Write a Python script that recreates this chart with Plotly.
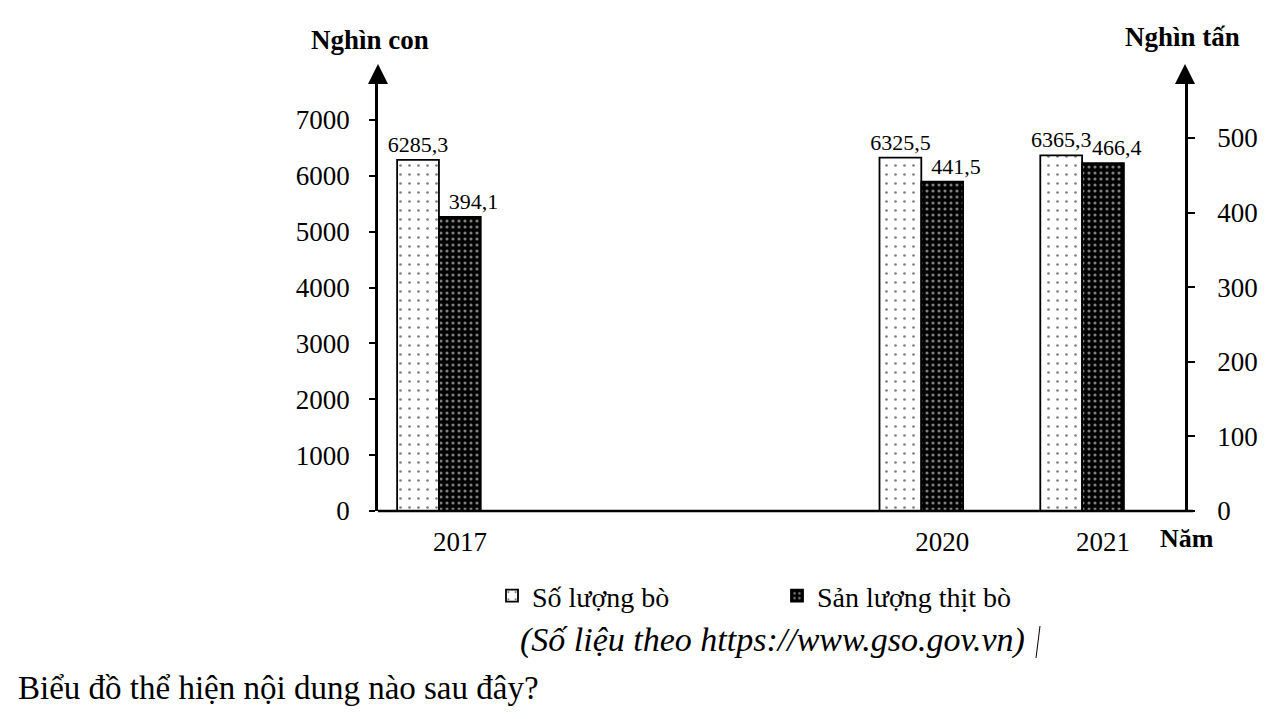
import plotly.graph_objects as go

years = [2017, 2020, 2021]
so_luong_bo = [6285.3, 6325.5, 6365.3]       # Nghìn con
san_luong_thit = [394.1, 441.5, 466.4]        # Nghìn tấn
left_ticks = [0, 1000, 2000, 3000, 4000, 5000, 6000, 7000]
right_ticks = [0, 100, 200, 300, 400, 500]
series_names = ["Số lượng bò", "Sản lượng thịt bò"]

def fmt(v):
    return f"{v:.1f}".replace(".", ",")

FONT = "Times New Roman, Liberation Serif, DejaVu Serif, serif"
W, H = 1280, 719
L, R, T, B = 378, 95, 80, 208
pw = W - L - R
ph = H - T - B

fig = go.Figure()
bw = 0.26
fig.add_trace(go.Bar(
    x=years, y=so_luong_bo, name=series_names[0], yaxis="y",
    width=bw, offset=-bw,
    text=[fmt(v) for v in so_luong_bo], textposition="outside", constraintext="none",
    textfont=dict(family=FONT, size=22, color="black"), cliponaxis=False,
    marker=dict(color="white", line=dict(color="black", width=1.8),
                pattern=dict(shape=".", fgcolor="black", bgcolor="white",
                             size=9, solidity=0.07, fillmode="overlay")),
))
fig.add_trace(go.Bar(
    x=years, y=san_luong_thit, name=series_names[1], yaxis="y2",
    width=bw, offset=0,
    text=[fmt(v) for v in san_luong_thit], textposition="outside", constraintext="none",
    texttemplate="&nbsp;&nbsp;&nbsp;&nbsp;&nbsp;%{text}",
    textfont=dict(family=FONT, size=22, color="black"), cliponaxis=False,
    marker=dict(color="black", line=dict(color="black", width=1.8),
                pattern=dict(shape=".", fgcolor="white", bgcolor="black",
                             size=6, solidity=0.22, fillmode="overlay")),
))

left_top = ph / ((511 - 120) / 7000)
right_top = ph / ((511 - 138) / 500)

fig.update_layout(
    width=W, height=H,
    margin=dict(l=L, r=R, t=T, b=B, pad=0, autoexpand=False),
    paper_bgcolor="white", plot_bgcolor="white",
    font=dict(family=FONT, color="black"),
    barmode="overlay",
    xaxis=dict(range=[2016.621, 2021.64], tickvals=years, ticktext=[str(y) for y in years],
               showgrid=False, zeroline=False, showline=False, ticks="", automargin=False,
               tickfont=dict(family=FONT, size=27), ticklabelshift=21, ticklabelstandoff=12),
    yaxis=dict(range=[0, left_top], tickvals=left_ticks, showgrid=False, zeroline=False,
               showline=True, linecolor="black", linewidth=2.5, automargin=False,
               ticks="outside", ticklen=6, tickwidth=2, tickcolor="black",
               tickfont=dict(family=FONT, size=27), ticklabelstandoff=14),
    yaxis2=dict(range=[0, right_top], tickvals=right_ticks, overlaying="y", side="right",
                showgrid=False, zeroline=False, showline=True, linecolor="black", linewidth=2.5,
                ticks="outside", ticklen=7, tickwidth=2, tickcolor="black", automargin=False,
                tickfont=dict(family=FONT, size=27), ticklabelstandoff=17),
    showlegend=True,
    legend=dict(orientation="h", x=(492 - L) / pw, y=(511 - 596) / ph,
                xanchor="left", yanchor="middle", entrywidth=240,
                font=dict(family=FONT, size=28), itemwidth=30,
                bgcolor="rgba(0,0,0,0)"),
)

# x axis line extending past the right axis
fig.add_shape(type="line", xref="paper", yref="paper", x0=0, x1=(1193 - L) / pw, y0=0, y1=0,
              line=dict(color="black", width=2.5))

# axis arrows
for xp in [0, 1]:
    fig.add_annotation(xref="paper", yref="paper", x=xp, y=(511 - 64) / ph,
                       ax=0, ay=20, showarrow=True, arrowhead=2, arrowsize=1.6,
                       arrowwidth=2.5, arrowcolor="black", text="")

def px_x(x):
    return (x - L) / pw

def px_y(y):
    return (511 - y) / ph

fig.add_annotation(xref="paper", yref="paper", x=px_x(370), y=px_y(40), text="<b>Nghìn con</b>",
                   showarrow=False, font=dict(family=FONT, size=27), xanchor="center", yanchor="middle")
fig.add_annotation(xref="paper", yref="paper", x=px_x(1182), y=px_y(37), text="<b>Nghìn tấn</b>",
                   showarrow=False, font=dict(family=FONT, size=27), xanchor="center", yanchor="middle")
fig.add_annotation(xref="paper", yref="paper", x=px_x(1187), y=px_y(538), text="<b>Năm</b>",
                   showarrow=False, font=dict(family=FONT, size=26), xanchor="center", yanchor="middle")
fig.add_annotation(xref="paper", yref="paper", x=px_x(518), y=px_y(640),
                   text="<i>(Số liệu theo https://www.gso.gov.vn)</i>",
                   showarrow=False, font=dict(family=FONT, size=34), xanchor="left", yanchor="middle")
fig.add_shape(type="line", xref="paper", yref="paper", x0=px_x(1040), x1=px_x(1036),
              y0=px_y(626), y1=px_y(658), line=dict(color="black", width=1))
fig.add_annotation(xref="paper", yref="paper", x=px_x(16), y=px_y(688),
                   text="Biểu đồ thể hiện nội dung nào sau đây?",
                   showarrow=False, font=dict(family=FONT, size=33), xanchor="left", yanchor="middle")

fig.write_html("out.html", config={"displayModeBar": False},
               post_script="document.body.style.margin='0';document.body.style.overflow='hidden';")
